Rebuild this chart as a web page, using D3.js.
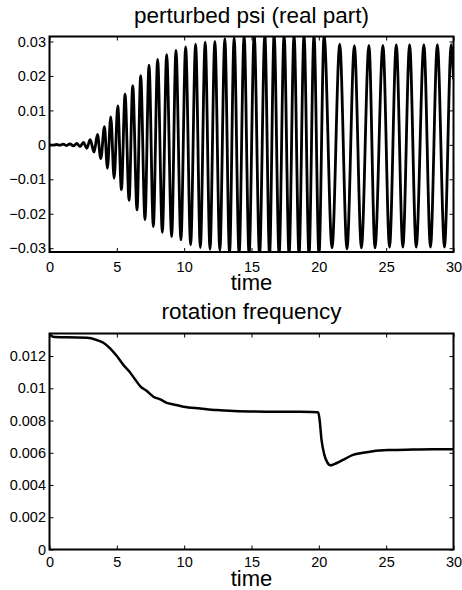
<!DOCTYPE html>
<meta charset="utf-8">
<style>
body{margin:0;background:#fff}
text{font-family:"Liberation Sans",Arial,Helvetica,sans-serif;fill:#000}
</style>
<body>
<div id="graph"></div>
<script src="https://cdn.jsdelivr.net/npm/d3@7"></script>
<script>
// perturbed psi, real part: turning points of the trace
var psiTime = [0, 0.27, 0.52, 0.77, 1.02, 1.27, 1.52, 1.77, 2.02, 2.27,
  2.52, 2.77, 3.02, 3.31, 3.56, 3.81, 4.08, 4.30, 4.55, 4.80,
  5.07, 5.34, 5.61, 5.91, 6.18, 6.50, 6.77, 7.09, 7.39, 7.71,
  8.03, 8.38, 8.70, 9.07, 9.39, 9.76, 10.11, 10.48, 10.85, 11.20,
  11.56, 11.92, 12.28, 12.65, 13.02, 13.37, 13.71, 14.08, 14.45, 14.82,
  15.20, 15.60, 15.99, 16.34, 16.68, 17.05, 17.42, 17.79, 18.16, 18.53,
  18.90, 19.27, 19.64, 20.01, 20.39, 20.98, 21.55, 22.09, 22.64, 23.16,
  23.72, 24.17, 24.76, 25.25, 25.75, 26.24, 26.74, 27.23, 27.80, 28.29,
  28.80, 29.33, 29.83, 30]
var psiValue = [0, -0.0001, 0.0001, -0.0001, 0.0002, -0.0002, 0.0003, -0.0003, 0.0004, -0.0005,
  0.0007, -0.0010, 0.0015, -0.0021, 0.0030, -0.0040, 0.0053, -0.0068, 0.0081, -0.0097,
  0.0113, -0.0130, 0.0147, -0.0161, 0.0172, -0.0189, 0.0201, -0.0217, 0.0231, -0.0237,
  0.0248, -0.0254, 0.0262, -0.0266, 0.0274, -0.0276, 0.0284, -0.0290, 0.0292, -0.0298,
  0.0298, -0.0303, 0.0300, -0.0306, 0.0308, -0.0315, 0.0311, -0.0318, 0.0318, -0.0320,
  0.0320, -0.0320, 0.0320, -0.0320, 0.0320, -0.0320, 0.0320, -0.0320, 0.0320, -0.0320,
  0.0320, -0.0320, 0.0320, -0.0320, 0.0318, -0.0299, 0.0292, -0.0302, 0.0288, -0.0299,
  0.0289, -0.0299, 0.0289, -0.0297, 0.0291, -0.0297, 0.0291, -0.0297, 0.0291, -0.0297,
  0.0291, -0.0297, 0.0291, 0.0190]

// rotation frequency
var freqTime = [0, 0.25, 1.3, 2.8, 3.5, 4.0, 4.5, 5.0, 5.5, 6.0,
  6.36, 6.73, 7.23, 7.72, 8.22, 8.71, 9.21, 9.95, 11.2, 12.4,
  13.7, 16.1, 18.6, 19.95, 20.05, 20.2, 20.4, 20.6, 20.85, 21.1,
  21.8, 22.54, 23.28, 24.02, 25.25, 26.98, 28.5, 30]
var freqValue = [0.0134, 0.0132, 0.01316, 0.01314, 0.0130, 0.01283, 0.01248, 0.0120, 0.01144, 0.01097,
  0.01055, 0.01014, 0.00983, 0.00948, 0.00931, 0.0091, 0.0090, 0.00886, 0.00875, 0.00865,
  0.00859, 0.00855, 0.00854, 0.00852, 0.0081, 0.0068, 0.0059, 0.00545, 0.00522, 0.00528,
  0.00556, 0.00587, 0.0060, 0.0061, 0.00617, 0.0062, 0.00622, 0.00622]

var timeTicks = [0, 5, 10, 15, 20, 25, 30]
var psiTicks = [-0.03, -0.02, -0.01, 0, 0.01, 0.02, 0.03]
var freqTicks = [0, 0.002, 0.004, 0.006, 0.008, 0.01, 0.012]

var svg = d3.select('#graph').append('svg')
  .attr('width', 462).attr('height', 590)

// matlab style labels: 0, 0.01, −0.02
var fmt = d => d == 0 ? '0' : String(+d.toFixed(4)).replace('-', '\u2212')

function panel(o){
  var g = svg.append('g')
  var x = d3.scaleLinear().domain([0, 30]).range([49.5, 453.5])
  var y = d3.scaleLinear().domain(o.yDomain).range([o.bottom, o.top])

  g.append('clipPath').attr('id', o.id)
    .append('rect')
    .attr('x', x.range()[0]).attr('y', o.top)
    .attr('width', x.range()[1] - x.range()[0]).attr('height', o.bottom - o.top)

  var pts = o.times.map((t, i) => [t, o.values[i]])
  var line = d3.line().x(d => x(d[0])).y(d => y(d[1])).curve(d3.curveMonotoneX)

  g.append('path')
    .attr('d', line(pts))
    .attr('clip-path', 'url(#' + o.id + ')')
    .attr('fill', 'none').attr('stroke', '#000')
    .attr('stroke-width', o.lw).attr('stroke-linejoin', 'round')

  // ticks point inwards on all four sides
  var axes = [
    [d3.axisBottom(x).tickValues(timeTicks).tickFormat(fmt).tickPadding(o.xpad), 0, o.bottom],
    [d3.axisTop(x).tickValues(timeTicks).tickFormat(''), 0, o.top],
    [d3.axisLeft(y).tickValues(o.yTicks).tickFormat(fmt).tickPadding(3.5), x.range()[0], 0],
    [d3.axisRight(y).tickValues(o.yTicks).tickFormat(''), x.range()[1], 0]
  ]
  axes.forEach(function(a){
    var ax = g.append('g')
      .attr('transform', 'translate(' + a[1] + ',' + a[2] + ')')
      .call(a[0].tickSizeInner(-4).tickSizeOuter(0))
    ax.select('.domain').remove()
    ax.selectAll('line').attr('stroke', '#000').attr('stroke-width', 1)
    ax.selectAll('text').style('font-size', '14.5px')
      .style('font-family', '"Liberation Sans",Arial,sans-serif').attr('fill', '#000')
  })

  g.append('rect')
    .attr('x', x.range()[0]).attr('y', o.top)
    .attr('width', x.range()[1] - x.range()[0]).attr('height', o.bottom - o.top)
    .attr('fill', 'none').attr('stroke', '#000').attr('stroke-width', 2)

  g.append('text').text(o.title)
    .attr('x', 251.5).attr('y', o.titleY)
    .attr('text-anchor', 'middle').style('font-size', '22.5px')

  g.append('text').text('time')
    .attr('x', 251.5).attr('y', o.labelY)
    .attr('text-anchor', 'middle').style('font-size', '22px')
}

panel({id: 'clipPsi', title: 'perturbed psi (real part)', top: 36.5, bottom: 252,
  yDomain: [-0.0311, 0.03145], yTicks: psiTicks, times: psiTime, values: psiValue,
  titleY: 23, labelY: 290, xpad: 9.5, lw: 2.8})

panel({id: 'clipFreq', title: 'rotation frequency', top: 333.5, bottom: 549.5,
  yDomain: [0, 0.0134], yTicks: freqTicks, times: freqTime, values: freqValue,
  titleY: 318.5, labelY: 585.5, xpad: 7.5, lw: 2.5})
</script>
